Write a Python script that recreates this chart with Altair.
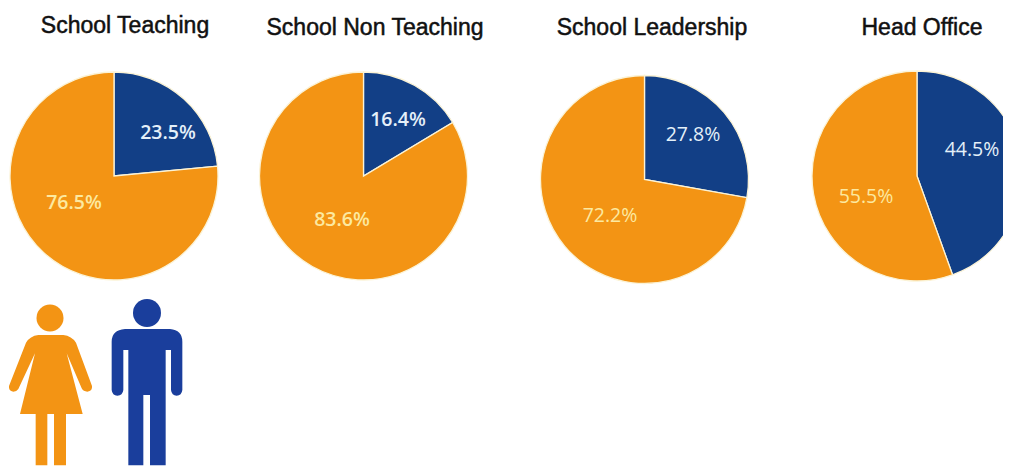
import altair as alt
import pandas as pd

categories = ["School Teaching", "School Non Teaching", "School Leadership", "Head Office"]
male_share = [23.5, 16.4, 27.8, 44.5]
female_share = [76.5, 83.6, 72.2, 55.5]

BLUE = "#123F86"
ORANGE = "#F39414"
OFF = 8  # page margin

# layout: pixel positions in the reference picture
centres = [(114, 176, 104), (363.5, 176, 104), (644.5, 179.5, 104), (917, 176, 105)]
title_pos = [(125, 26), (375, 28), (652, 28), (922, 28)]
male_lab = [(168, 133), (398, 120), (693, 135), (972, 150)]
female_lab = [(74, 203), (342, 220), (610, 216), (866, 197)]
label_weight = [600, 600, 400, 400]

layers = []
for i, cat in enumerate(categories):
    df = pd.DataFrame({
        "gender": ["Male", "Female"],
        "share": [male_share[i], female_share[i]],
        "rank": [0, 1],
    })
    cx, cy, r = centres[i]
    layers.append(
        alt.Chart(df).mark_arc(outerRadius=r, stroke="#FBF3D6", strokeWidth=1.3).encode(
            theta=alt.Theta("share:Q", stack=True, scale=alt.Scale(domain=[0, 100])),
            order=alt.Order("rank:Q"),
            color=alt.Color("gender:N", scale=alt.Scale(domain=["Male", "Female"], range=[BLUE, ORANGE]), legend=None),
            x=alt.value(cx - OFF),
            y=alt.value(cy - OFF),
        )
    )
    tx, ty = title_pos[i]
    layers.append(
        alt.Chart(pd.DataFrame({"t": [cat]})).mark_text(
            font="Liberation Sans", fontSize=23, color="#111111", stroke="#111111", strokeWidth=0.5
        ).encode(text="t:N", x=alt.value(tx - OFF), y=alt.value(ty - OFF))
    )
    for val, (lx, ly), col in [(male_share[i], male_lab[i], "#E4F0F9"), (female_share[i], female_lab[i], "#FCE9A0")]:
        layers.append(
            alt.Chart(pd.DataFrame({"v": [f"{val:.1f}%"]})).mark_text(
                font="Open Sans", fontSize=19.5, fontWeight=label_weight[i], color=col
            ).encode(text="v:N", x=alt.value(lx - OFF), y=alt.value(ly - OFF))
        )

# pictograms, path units = zoom-crop units (1/3 px)
WOMAN = ("M115,135 L190,135 Q215,138 228,158 L276,288 Q278,303 262,305 Q250,305 245,295 L200,190 L248,372 "
         "L198,372 L198,526 L162,526 L162,372 L142,372 L142,526 L107,526 L107,372 L60,372 L105,190 L55,297 "
         "Q50,305 40,305 Q25,303 27,288 L78,158 Q90,138 115,135 Z")
MAN = ("M375,117 L510,117 Q547,120 547,155 L547,300 Q545,317 530,317 Q515,317 513,300 L513,180 L497,180 "
       "L497,526 L450,526 L450,315 L430,315 L430,526 L385,526 L385,180 L370,180 L370,300 Q368,317 352,317 "
       "Q337,317 335,300 L335,155 Q335,120 375,117 Z")
figures = pd.DataFrame({"who": ["Female", "Male"]})
for who, path, col, head, hr in [
    ("Female", WOMAN, "#F39414", (50, 318), 13.5),
    ("Male", MAN, "#1A3E9C", (147, 313), 14),
]:
    d = figures[figures.who == who]
    layers.append(
        alt.Chart(d).mark_point(shape=path, filled=True, opacity=1, size=4 / 9, color=col).encode(
            x=alt.value(-OFF), y=alt.value(290 - OFF)
        )
    )
    layers.append(
        alt.Chart(d).mark_point(shape="circle", filled=True, opacity=1, size=(2 * hr) ** 2, color=col).encode(
            x=alt.value(head[0] - OFF), y=alt.value(head[1] - OFF)
        )
    )

chart = (
    alt.layer(*layers)
    .resolve_scale(color="shared", theta="shared")
    .properties(width=995, height=458, padding=0, autosize="none", background="white")
    .configure_view(stroke=None)
)
chart.save("out.html", embed_options={"renderer": "svg", "actions": False})
